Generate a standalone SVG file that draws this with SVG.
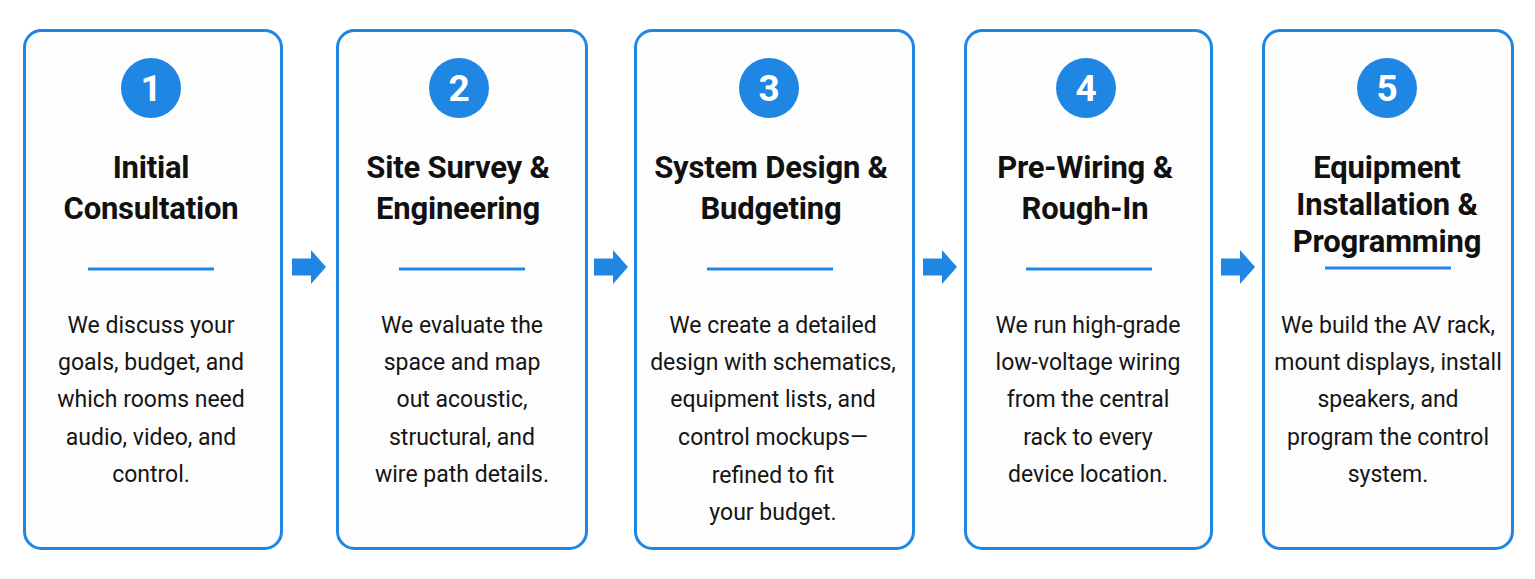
<svg xmlns="http://www.w3.org/2000/svg" xmlns:xlink="http://www.w3.org/1999/xlink" width="1535" height="579" viewBox="0 0 1535 579">
<style>
.card{fill:#fdfdfd;stroke:#1f86e4;stroke-width:3}
.badge{fill:#1f86e4}
.num{fill:#fff;font-family:Roboto,"Liberation Sans",sans-serif;font-weight:700;font-size:37px;text-anchor:middle}
.title{fill:#111;font-family:Roboto,"Liberation Sans",sans-serif;font-weight:700;font-size:31px;text-anchor:middle;letter-spacing:-0.2px}
.body{fill:#151515;font-family:Roboto,"Liberation Sans",sans-serif;font-size:23px;text-anchor:middle}
.rule{stroke:#1f86e4;stroke-width:3}
.arrow{fill:#1f86e4}
</style>
<defs>
<path id="arr" d="M0,-8.5 H19 V-17 L34,0 L19,17 V8.5 H0 Z"/>
</defs>
<rect width="1535" height="579" fill="#ffffff"/>
<g id="connectors">
<use xlink:href="#arr" class="arrow" x="292" y="267"/>
<use xlink:href="#arr" class="arrow" x="594" y="267"/>
<use xlink:href="#arr" class="arrow" x="923" y="267"/>
<use xlink:href="#arr" class="arrow" x="1221" y="267"/>
</g>
<g id="step1">
<rect class="card" x="24.5" y="30.5" width="257" height="518" rx="17"/>
<circle class="badge" cx="151" cy="88" r="30"/>
<text class="num" x="151" y="101">1</text>
<text class="title" x="151" y="178">Initial</text>
<text class="title" x="151" y="219">Consultation</text>
<line class="rule" x1="88" y1="269" x2="214" y2="269"/>
<text class="body" x="151" y="333">We discuss your</text>
<text class="body" x="151" y="370">goals, budget, and</text>
<text class="body" x="151" y="407">which rooms need</text>
<text class="body" x="151" y="445">audio, video, and</text>
<text class="body" x="151" y="482">control.</text>
</g>
<g id="step2">
<rect class="card" x="337.5" y="30.5" width="249" height="518" rx="17"/>
<circle class="badge" cx="459" cy="88" r="30"/>
<text class="num" x="459" y="101">2</text>
<text class="title" x="458" y="178">Site Survey &amp;</text>
<text class="title" x="458" y="219">Engineering</text>
<line class="rule" x1="399" y1="269" x2="525" y2="269"/>
<text class="body" x="462" y="333">We evaluate the</text>
<text class="body" x="462" y="370">space and map</text>
<text class="body" x="462" y="407">out acoustic,</text>
<text class="body" x="462" y="445">structural, and</text>
<text class="body" x="462" y="482">wire path details.</text>
</g>
<g id="step3">
<rect class="card" x="635.5" y="30.5" width="278" height="518" rx="17"/>
<circle class="badge" cx="769" cy="88" r="30"/>
<text class="num" x="769" y="101">3</text>
<text class="title" x="771" y="178">System Design &amp;</text>
<text class="title" x="771" y="219">Budgeting</text>
<line class="rule" x1="707" y1="269" x2="833" y2="269"/>
<text class="body" x="773" y="333">We create a detailed</text>
<text class="body" x="773" y="370">design with schematics,</text>
<text class="body" x="773" y="407">equipment lists, and</text>
<text class="body" x="773" y="445">control mockups—</text>
<text class="body" x="773" y="483">refined to fit</text>
<text class="body" x="773" y="520">your budget.</text>
</g>
<g id="step4">
<rect class="card" x="965.5" y="30.5" width="246" height="518" rx="17"/>
<circle class="badge" cx="1086" cy="88" r="30"/>
<text class="num" x="1086" y="101">4</text>
<text class="title" x="1085" y="178">Pre-Wiring &amp;</text>
<text class="title" x="1085" y="219">Rough-In</text>
<line class="rule" x1="1026" y1="269" x2="1152" y2="269"/>
<text class="body" x="1088" y="333">We run high-grade</text>
<text class="body" x="1088" y="370">low-voltage wiring</text>
<text class="body" x="1088" y="407">from the central</text>
<text class="body" x="1088" y="445">rack to every</text>
<text class="body" x="1088" y="482">device location.</text>
</g>
<g id="step5">
<rect class="card" x="1263.5" y="30.5" width="249" height="518" rx="17"/>
<circle class="badge" cx="1387" cy="88" r="30"/>
<text class="num" x="1387" y="101">5</text>
<text class="title" x="1387" y="178">Equipment</text>
<text class="title" x="1387" y="215">Installation &amp;</text>
<text class="title" x="1387" y="252">Programming</text>
<line class="rule" x1="1325" y1="268" x2="1451" y2="268"/>
<text class="body" x="1388" y="333">We build the AV rack,</text>
<text class="body" x="1388" y="370">mount displays, install</text>
<text class="body" x="1388" y="407">speakers, and</text>
<text class="body" x="1388" y="445">program the control</text>
<text class="body" x="1388" y="482">system.</text>
</g>
</svg>
